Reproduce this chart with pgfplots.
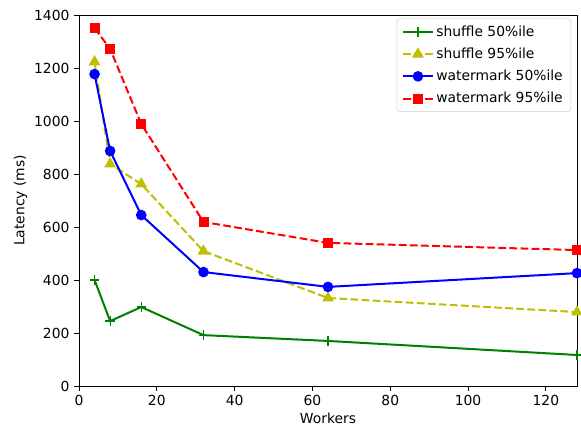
\documentclass[border=0pt]{standalone}
\usepackage{pgfplots}
\pgfplotsset{compat=1.18}
\usepackage{fontspec}
\setmainfont{DejaVu Sans}
\definecolor{mgreen}{rgb}{0,0.5,0}
\definecolor{myel}{rgb}{0.75,0.75,0}
\begin{document}
\fontsize{10.4}{12.5}\selectfont
\begin{tikzpicture}
\begin{axis}[
  name=ax,
  scale only axis,
  width=373.5pt, height=278.25pt,
  xmin=0, xmax=128, ymin=0, ymax=1400,
  xtick={0,20,40,60,80,100,120},
  ytick={0,200,400,600,800,1000,1200,1400},
  tick align=outside, tick pos=left,
  major tick length=3.5pt,
  every tick/.style={black, line width=0.6pt},
  axis line style={line width=0.6pt},
  /pgf/number format/assume math mode=true,
  /pgf/number format/1000 sep={},
  ticklabel style={font=\fontsize{10.4}{12.5}\selectfont},
  label style={font=\fontsize{10.4}{12.5}\selectfont},
  xlabel={Workers}, ylabel={Latency (ms)},
  xlabel style={yshift=2pt},
  ylabel style={yshift=-2pt},
  legend cell align=left,
  legend style={font=\fontsize{10.4}{12.5}\selectfont, draw=black!20, rounded corners=2pt, at={(0.988,0.99)}, anchor=north east, inner xsep=4pt, inner ysep=3pt, row sep=3.2pt, /tikz/every even column/.append style={column sep=2pt}},
  legend image code/.code={\draw[mark repeat=2,mark phase=2,#1] plot coordinates {(0pt,0pt) (11pt,0pt) (22pt,0pt)};},
]
\addplot[mgreen, line width=1.5pt, mark=+, mark size=3.5pt, mark options={solid, line width=0.9pt}] coordinates {(4,400) (8,245) (16,298) (32,192) (64,170) (128,117)};
\addlegendentry{shuffle 50\%ile}
\addplot[myel, line width=1.5pt, dash pattern=on 5.8pt off 2.5pt, mark=triangle*, mark size=3.6pt, mark options={solid}] coordinates {(4,1223) (8,838) (16,762) (32,509) (64,332) (128,279)};
\addlegendentry{shuffle 95\%ile}
\addplot[blue, line width=1.5pt, mark=*, mark size=3.2pt, mark options={solid}] coordinates {(4,1177) (8,887) (16,645) (32,430) (64,374) (128,426)};
\addlegendentry{watermark 50\%ile}
\addplot[red, line width=1.5pt, dash pattern=on 5.8pt off 2.5pt, mark=square*, mark size=3pt, mark options={solid}] coordinates {(4,1351) (8,1272) (16,989) (32,619) (64,540) (128,513)};
\addlegendentry{watermark 95\%ile}
\end{axis}
\pgfresetboundingbox
\path ([shift={(-59.25pt,-31.5pt)}]ax.south west) rectangle ([shift={(3pt,11.25pt)}]ax.north east);
\end{tikzpicture}
\end{document}
